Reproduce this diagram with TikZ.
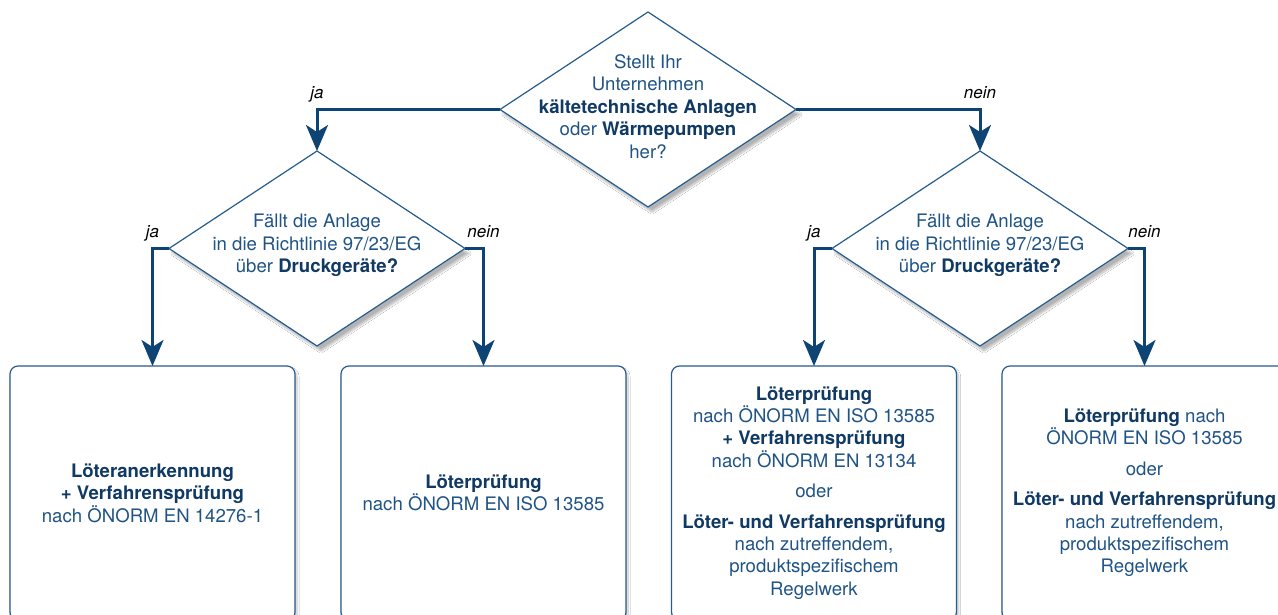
\documentclass[tikz,border=0pt]{standalone}
\usepackage{fontspec}
\setmainfont{TeX Gyre Heros}
\usetikzlibrary{shapes.geometric, arrows.meta, shadows.blur}
\definecolor{linienblau}{RGB}{14,68,116}
\definecolor{randblau}{RGB}{38,92,142}
\definecolor{textblau}{RGB}{32,84,134}
\definecolor{dunkelblau}{RGB}{16,58,100}
\newcommand{\fett}[1]{\textbf{\color{dunkelblau}#1}}

\begin{document}
\begin{tikzpicture}[x=1pt, y=-1pt,
  frage/.style={diamond, draw=randblau, line width=1.2pt, fill=white, minimum width=296pt, minimum height=195pt, inner sep=0pt, outer sep=0pt,
    blur shadow={shadow xshift=4pt, shadow yshift=-5pt, shadow blur steps=10, shadow opacity=30}},
  fragetext/.style={align=center, text=textblau, font=\fontsize{18.6}{22.4}\selectfont, yshift=3pt},
  ergebnis/.style={draw=randblau, line width=1.2pt, fill=white, rounded corners=8pt, minimum width=285pt, minimum height=254pt, align=center, text=textblau, font=\fontsize{18.6}{22.4}\selectfont, outer sep=0pt,
    blur shadow={shadow xshift=2pt, shadow yshift=-3pt, shadow blur steps=10, shadow opacity=24}},
  pfeil/.style={-{Stealth[length=26pt, width=22pt, inset=7pt]}, line width=3pt, draw=linienblau},
  antwort/.style={anchor=base, yshift=11pt, text=black, font=\fontsize{17}{20}\selectfont\itshape}]
\path[use as bounding box, clip] (0,0) rectangle (1278,615);
\fill[white] (0,0) rectangle (1278,615);
\node[frage, label={[fragetext]center:{Stellt Ihr\\ Unternehmen\\ \fett{kältetechnische Anlagen}\\ oder \fett{Wärmepumpen}\\ her?}}] (f0) at (648,109.5) {};
\node[frage, label={[fragetext]center:{Fällt die Anlage\\ in die Richtlinie 97/23/EG\\ über \fett{Druckgeräte?}}}] (f1) at (317,248.5) {};
\node[frage, label={[fragetext]center:{Fällt die Anlage\\ in die Richtlinie 97/23/EG\\ über \fett{Druckgeräte?}}}] (f2) at (980,248.5) {};
\node[ergebnis] (e1) at (152.5,493) {\fett{Löteranerkennung}\\ \fett{+ Verfahrensprüfung}\\ nach ÖNORM EN 14276-1};
\node[ergebnis] (e2) at (483.5,493) {\fett{Löterprüfung}\\ nach ÖNORM EN ISO 13585};
\node[ergebnis] (e3) at (814,493) {\fett{Löterprüfung}\\ nach ÖNORM EN ISO 13585\\ \fett{+ Verfahrensprüfung}\\ nach ÖNORM EN 13134\\[8pt] oder\\[8pt]
  \fett{Löter- und Verfahrensprüfung}\\ nach zutreffendem,\\ produktspezifischem\\ Regelwerk};
\node[ergebnis] (e4) at (1144.5,493) {\fett{Löterprüfung} nach\\ ÖNORM EN ISO 13585\\[8pt] oder\\[8pt]
  \fett{Löter- und Verfahrensprüfung}\\ nach zutreffendem,\\ produktspezifischem\\ Regelwerk};
\draw[pfeil] (f0.west) -| node[antwort, pos=0.5]{ja} (f1.north);
\draw[pfeil] (f0.east) -| node[antwort, pos=0.5]{nein} (f2.north);
\draw[pfeil] (f1.west) -| node[antwort, pos=0.5]{ja} (e1.north);
\draw[pfeil] (f1.east) -| node[antwort, pos=0.5]{nein} (e2.north);
\draw[pfeil] (f2.west) -| node[antwort, pos=0.5]{ja} (e3.north);
\draw[pfeil] (f2.east) -| node[antwort, pos=0.5]{nein} (e4.north);
\end{tikzpicture}
\end{document}
